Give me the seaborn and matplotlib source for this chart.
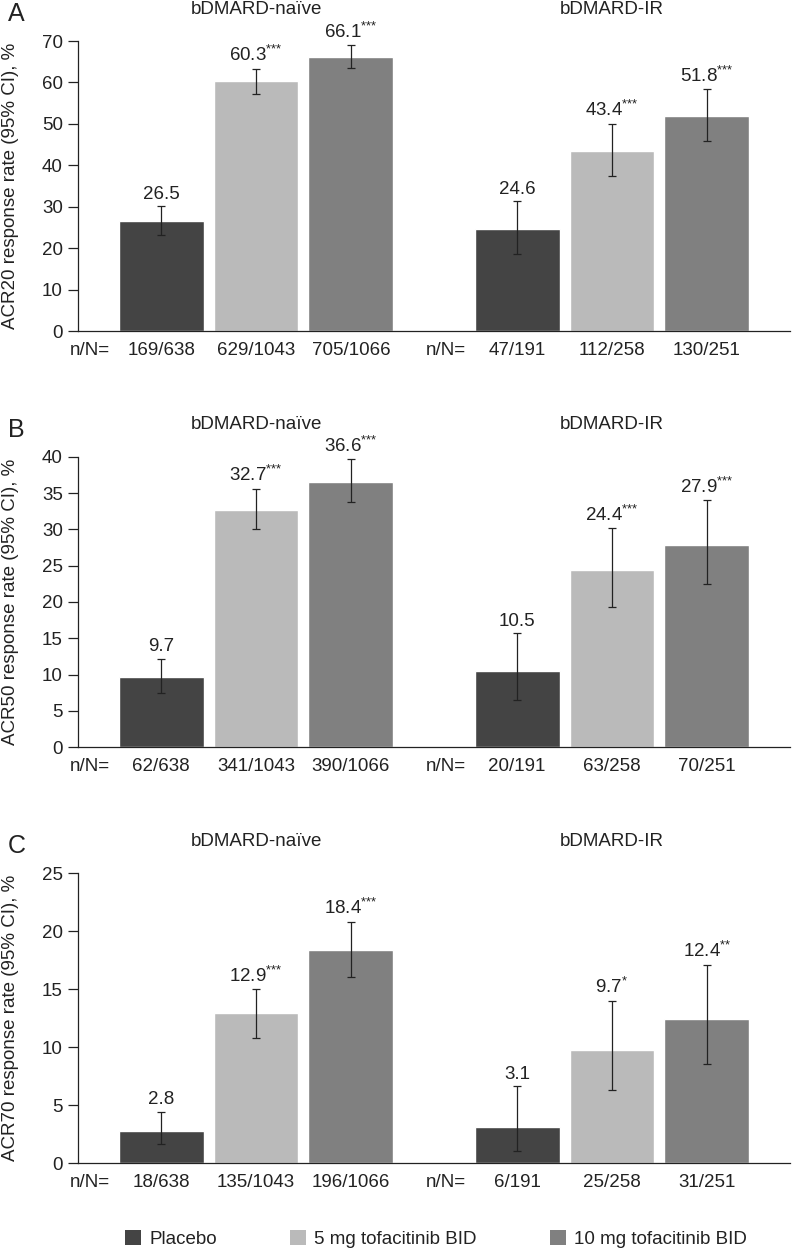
import matplotlib
matplotlib.use("Agg")
import matplotlib.pyplot as plt
import matplotlib.transforms as mtransforms
from matplotlib.patches import Patch
import pandas as pd
import seaborn as sns

sns.set_style("white")
plt.rcParams['font.family'] = ['Liberation Sans', 'DejaVu Sans']

groups = ["bDMARD-naïve", "bDMARD-IR"]
treatments = ["Placebo", "5 mg tofacitinib BID", "10 mg tofacitinib BID"]
colors = ["#444444", "#bababa", "#808080"]

# order in every list: naive placebo, 5 mg, 10 mg, then IR placebo, 5 mg, 10 mg
acr20 = [26.5, 60.3, 66.1, 24.6, 43.4, 51.8]
acr20_lo = [23.1, 57.3, 63.4, 18.7, 37.3, 45.8]
acr20_hi = [30.1, 63.3, 69.0, 31.3, 50.0, 58.4]
acr20_sig = ["", "***", "***", "", "***", "***"]
acr20_n = ["169/638", "629/1043", "705/1066", "47/191", "112/258", "130/251"]

acr50 = [9.7, 32.7, 36.6, 10.5, 24.4, 27.9]
acr50_lo = [7.5, 30.0, 33.8, 6.5, 19.3, 22.5]
acr50_hi = [12.2, 35.6, 39.7, 15.7, 30.2, 34.0]
acr50_sig = ["", "***", "***", "", "***", "***"]
acr50_n = ["62/638", "341/1043", "390/1066", "20/191", "63/258", "70/251"]

acr70 = [2.8, 12.9, 18.4, 3.1, 9.7, 12.4]
acr70_lo = [1.6, 10.8, 16.0, 1.0, 6.3, 8.5]
acr70_hi = [4.4, 15.0, 20.8, 6.6, 14.0, 17.1]
acr70_sig = ["", "***", "***", "", "*", "**"]
acr70_n = ["18/638", "135/1043", "196/1066", "6/191", "25/258", "31/251"]

panels = [
    ("A", "ACR20 response rate (95% CI), %", acr20, acr20_lo, acr20_hi, acr20_sig, acr20_n, 70, 10),
    ("B", "ACR50 response rate (95% CI), %", acr50, acr50_lo, acr50_hi, acr50_sig, acr50_n, 40, 5),
    ("C", "ACR70 response rate (95% CI), %", acr70, acr70_lo, acr70_hi, acr70_sig, acr70_n, 25, 5),
]

W, H = 792, 1252
fig = plt.figure(figsize=(W / 100, H / 100), dpi=100)
axes_top = [41, 457, 873]
ax_h = 290
ax_left, ax_right = 78, 790
fs = 13.5

for (letter, ylab, vals, lo, hi, sig, nn, ymax, ystep), top in zip(panels, axes_top):
    ax = fig.add_axes([ax_left / W, 1 - (top + ax_h) / H, (ax_right - ax_left) / W, ax_h / H])
    df = pd.DataFrame({
        "group": [groups[0]] * 3 + [groups[1]] * 3,
        "treatment": treatments * 2,
        "value": vals,
    })
    sns.barplot(data=df, x="group", y="value", hue="treatment", order=groups,
                hue_order=treatments, palette=colors, width=0.8, gap=0.105,
                errorbar=None, legend=False, ax=ax)

    # error bars, value labels and n/N under each bar
    trans = mtransforms.blended_transform_factory(ax.transData, ax.transAxes)
    bar_conts = list(ax.containers)
    for ti, cont in enumerate(bar_conts):
        for gi, bar in enumerate(cont):
            k = gi * 3 + ti
            xc = bar.get_x() + bar.get_width() / 2
            v = vals[k]
            ax.errorbar(xc, v, yerr=[[v - lo[k]], [hi[k] - v]], fmt="none",
                        ecolor="#222222", elinewidth=0.9, capsize=3, capthick=0.9)
            if sig[k]:
                stars = "".join("{*}" for _ in sig[k])
                lab = "$\\mathregular{%.1f^{%s}}$" % (v, stars)
            else:
                lab = "%.1f" % v
            ax.annotate(lab, (xc, hi[k]), xytext=(0, 2.5), textcoords="offset points",
                        ha="center", va="bottom", fontsize=fs, color="#222222")
            ax.text(xc, -0.066, nn[k], transform=trans, ha="center", va="center",
                    fontsize=fs, color="#222222")

    for gi, g in enumerate(groups):
        ax.text(gi - 0.468, -0.066, "n/N=", transform=trans, ha="center", va="center",
                fontsize=fs, color="#222222")
        ax.text(gi, 1 + 32 / ax_h, g, transform=trans, ha="center", va="center",
                fontsize=fs, color="#222222")

    ax.set_xlim(-0.5, 1.5)
    ax.set_ylim(0, ymax)
    ax.set_yticks(range(0, ymax + 1, ystep))
    ax.set_xlabel("")
    ax.set_ylabel("")
    ax.tick_params(axis="x", length=0, labelbottom=False)
    ax.tick_params(axis="y", direction="out", length=7, width=0.9, pad=4,
                   labelsize=fs, colors="#222222", left=True)
    for s in ["top", "right"]:
        ax.spines[s].set_visible(False)
    for s in ["left", "bottom"]:
        ax.spines[s].set_color("#222222")
        ax.spines[s].set_linewidth(0.9)

    ax.text(-(ax_left - 11) / (ax_right - ax_left), 0.5, ylab, transform=ax.transAxes,
            rotation=90, ha="center", va="center", fontsize=fs, color="#222222")
    fig.text(8 / W, 1 - (top - 27) / H, letter, ha="left", va="center",
             fontsize=18, color="#222222")

handles = [Patch(facecolor=c, edgecolor="none", label=t) for c, t in zip(colors, treatments)]
fig.legend(handles=handles, loc="center", bbox_to_anchor=(436 / W, 1 - 1239 / H), ncol=3,
           frameon=False, fontsize=fs, handlelength=0.85, handleheight=0.85,
           handletextpad=0.45, columnspacing=3.9, labelcolor="#222222")

fig.savefig("out.png", dpi=100)
